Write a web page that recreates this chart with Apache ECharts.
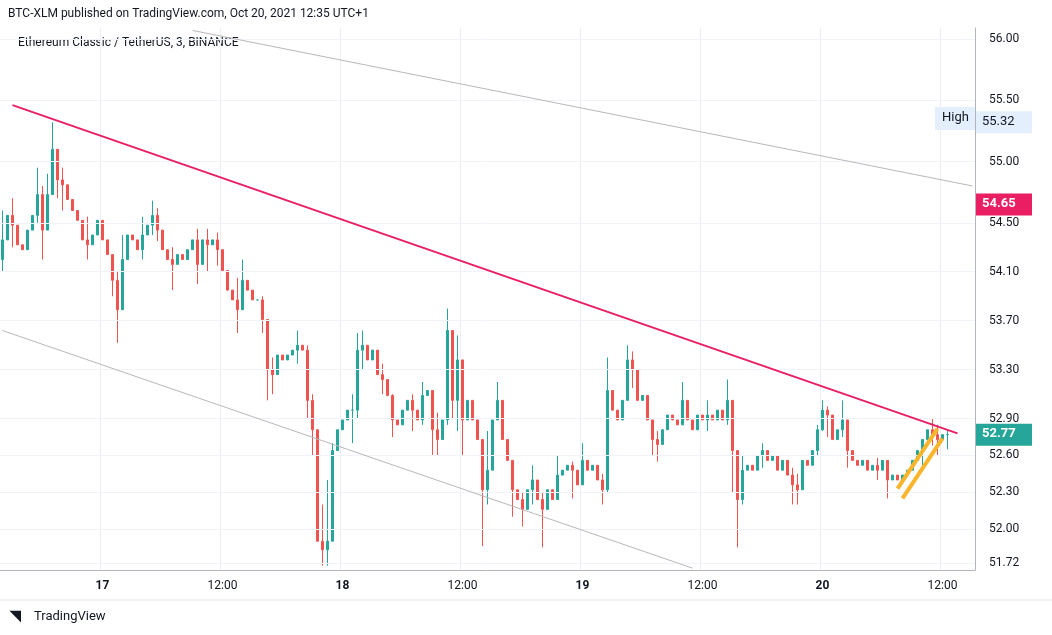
<!DOCTYPE html>
<html>
<head>
<meta charset="utf-8">
<script src="https://cdn.jsdelivr.net/npm/echarts@6/dist/echarts.min.js"></script>
<style>
  html, body { margin: 0; padding: 0; background: #fff; }
  #chart { width: 1052px; height: 635px; }
</style>
</head>
<body>
<div id="chart"></div>
<script>
// 30 minute candles, Oct 16 14:00 onward, closes
const closes = [
  54.36, 54.56, 54.48, 54.32, 54.28, 54.44, 54.56, 54.73, 54.44, 54.73,
  55.10, 54.85, 54.81, 54.69, 54.60, 54.52, 54.36, 54.32, 54.40, 54.52,
  54.36, 54.24, 54.03, 53.79, 54.20, 54.40, 54.36, 54.28, 54.40, 54.48,
  54.56, 54.44, 54.28, 54.20, 54.16, 54.24, 54.20, 54.28, 54.36, 54.16,
  54.36, 54.32, 54.36, 54.28, 54.11, 53.95, 53.87, 53.79, 54.03, 53.95,
  53.87, 53.87, 53.71, 53.30, 53.26, 53.42, 53.38, 53.42, 53.46, 53.50,
  53.46, 53.05, 52.81, 51.90, 51.83, 51.90, 52.64, 52.81, 52.89, 52.97,
  52.97, 53.46, 53.50, 53.38, 53.46, 53.26, 53.22, 53.09, 52.89, 52.85,
  52.97, 53.05, 52.97, 52.89, 53.09, 53.13, 52.81, 52.73, 52.89, 53.62,
  53.05, 53.38, 52.89, 53.05, 52.89, 52.73, 52.32, 52.48, 52.89, 53.05,
  52.73, 52.56, 52.32, 52.24, 52.16, 52.32, 52.40, 52.24, 52.16, 52.32,
  52.24, 52.44, 52.48, 52.52, 52.48, 52.36, 52.56, 52.48, 52.52, 52.40,
  52.32, 53.13, 52.97, 52.89, 53.05, 53.38, 53.30, 53.05, 53.09, 52.89,
  52.73, 52.69, 52.81, 52.93, 52.89, 52.85, 53.05, 52.89, 52.81, 52.93,
  52.89, 52.93, 52.89, 52.97, 52.89, 53.05, 52.64, 52.24, 52.48, 52.52,
  52.48, 52.60, 52.64, 52.56, 52.60, 52.48, 52.56, 52.44, 52.36, 52.32,
  52.56, 52.52, 52.64, 52.81, 52.97, 52.93, 52.73, 52.81, 52.89, 52.64,
  52.56, 52.52, 52.56, 52.48, 52.52, 52.48, 52.56, 52.40, 52.44, 52.40,
  52.44, 52.48, 52.56, 52.64, 52.73, 52.81, 52.77, 52.73, 52.77, 52.77
];
const firstOpen = 54.20;
// wick extremes that stick out past the bodies: [index, low, high]
const wicks = [
  [0, 54.10, 54.60], [2, 54.30, 54.70], [7, 54.50, 54.95], [8, 54.20, 54.80],
  [9, 54.60, 54.90], [10, 54.80, 55.32], [11, 54.70, 55.05], [12, 54.60, 54.95],
  [17, 54.20, 54.55], [22, 53.90, 54.20], [23, 53.52, 54.10], [24, 53.90, 54.40],
  [28, 54.20, 54.55], [30, 54.40, 54.68], [31, 54.35, 54.62], [34, 53.95, 54.30],
  [39, 54.00, 54.45], [41, 54.10, 54.45], [43, 54.15, 54.42], [47, 53.60, 54.05],
  [48, 53.80, 54.20], [52, 53.60, 53.90], [53, 53.05, 53.50], [54, 53.10, 53.40],
  [59, 53.35, 53.62], [61, 52.90, 53.50], [62, 52.60, 53.10], [63, 51.95, 52.80],
  [64, 51.70, 52.20], [65, 51.70, 52.40], [66, 51.90, 52.70], [70, 52.70, 53.10],
  [71, 52.90, 53.60], [72, 53.30, 53.62], [76, 53.10, 53.35], [78, 52.75, 53.10],
  [82, 52.80, 53.10], [84, 52.85, 53.20], [86, 52.60, 53.00], [87, 52.60, 52.95],
  [89, 52.85, 53.80], [90, 52.90, 53.60], [91, 52.80, 53.58], [92, 52.60, 53.20],
  [96, 51.86, 52.70], [97, 52.20, 52.80], [99, 52.90, 53.20], [102, 52.10, 52.50],
  [104, 52.02, 52.30], [106, 52.20, 52.52], [108, 51.85, 52.30], [111, 52.30, 52.60],
  [114, 52.25, 52.55], [116, 52.40, 52.70], [120, 52.20, 52.45], [121, 52.30, 53.40],
  [125, 53.20, 53.50], [126, 53.15, 53.45], [130, 52.60, 52.85], [131, 52.55, 52.80],
  [136, 52.85, 53.20], [141, 52.80, 53.05], [145, 52.85, 53.22], [146, 52.30, 52.90],
  [147, 51.85, 52.50], [148, 52.20, 52.60], [152, 52.50, 52.70], [158, 52.20, 52.50],
  [159, 52.20, 52.45], [163, 52.60, 52.85], [164, 52.80, 53.05], [165, 52.75, 53.00],
  [168, 52.75, 53.05], [169, 52.50, 52.85], [175, 52.40, 52.58], [177, 52.25, 52.50],
  [184, 52.52, 52.70], [186, 52.68, 52.90], [187, 52.60, 52.85], [189, 52.65, 52.80]
];
const yTicks = [51.72, 52.00, 52.30, 52.60, 52.90, 53.30, 53.70, 54.10, 54.50, 55.00, 55.50, 56.00];
const slotCount = 195;
const startTime = Date.UTC(2021, 9, 16, 14, 0);

// trend lines as [slot, price] pairs
const pinkLine = [[2, 55.46], [191, 52.78]];
const upperGray = [[38, 56.07], [194, 54.80]];
const lowerGray = [[0, 53.62], [138, 51.68]];
const yellowA = [[179, 52.33], [187, 52.82]];
const yellowB = [[180, 52.25], [188, 52.74]];

// price tags on the right scale: [price, text, background, text colour]
const priceTags = [
    [55.32, "55.32", "#e3effd", "#131722"],
    [54.65, "54.65", "#e91e63", "#ffffff"],
    [52.77, "52.77", "#26a69a", "#ffffff"]
];

const categories = [];
for (let i = 0; i < slotCount; i++) {
    const d = new Date(startTime + i * 30 * 60000);
    categories.push({ day: d.getUTCDate(), hour: d.getUTCHours(), min: d.getUTCMinutes() });
}
const catNames = categories.map((c, i) => String(i));

const wickMap = {};
wicks.forEach(w => { wickMap[w[0]] = [w[1], w[2]]; });
const candles = closes.map((c, i) => {
    const o = i === 0 ? firstOpen : closes[i - 1];
    let lo = Math.min(o, c), hi = Math.max(o, c);
    if (wickMap[i]) { lo = Math.min(lo, wickMap[i][0]); hi = Math.max(hi, wickMap[i][1]); }
    return [o, c, lo, hi];
});

function isMajor(i) {
    const c = categories[i];
    return c && c.min === 0 && c.hour % 12 === 0;
}

function seg(points, color, width) {
    return [
        { coord: [String(points[0][0]), points[0][1]], lineStyle: { color: color, width: width, type: "solid" } },
        { coord: [String(points[1][0]), points[1][1]] }
    ];
}

const chart = echarts.init(document.getElementById("chart"));
const option = {
    animation: false,
    backgroundColor: "#ffffff",
    grid: { left: 0, right: 77, top: 28, bottom: 65 },
    graphic: [
        { type: "text", left: 8, top: 8, style: { text: "BTC-XLM published on TradingView.com, Oct 20, 2021 12:35 UTC+1", fill: "#131722", font: "12px Roboto" } },
        { type: "text", left: 18, top: 37, style: { text: "Ethereum Classic / TetherUS, 3, BINANCE", fill: "#131722", font: "12px Roboto" } },
        { type: "text", left: 34, top: 610, style: { text: "TradingView", fill: "#131722", font: "13px Roboto" } },
        { type: "text", left: 10, top: 609, style: { text: "\u25E5", fill: "#131722", font: "bold 14px Roboto" } },
        { type: "rect", left: 935, top: 107, shape: { width: 40, height: 23 }, style: { fill: "#e3effd" } },
        { type: "text", left: 942, top: 111, style: { text: "High", fill: "#131722", font: "13px Roboto" } },
        { type: "line", shape: { x1: 0, y1: 600, x2: 1052, y2: 600 }, style: { stroke: "#e0e3eb" } }
    ],
    xAxis: {
        type: "category",
        data: catNames,
        boundaryGap: true,
        axisLine: { lineStyle: { color: "#b2b5be" } },
        axisTick: { show: false },
        axisLabel: {
            interval: (i) => isMajor(i),
            color: "#131722",
            fontSize: 12,
            fontFamily: "Roboto",
            margin: 10,
            formatter: (v) => {
                const c = categories[+v];
                return c.hour === 0 ? "{b|" + c.day + "}" : "12:00";
            },
            rich: { b: { fontWeight: "bold", fontSize: 12, color: "#131722" } }
        },
        splitLine: { show: true, interval: (i) => isMajor(i), lineStyle: { color: "#eceef2" } }
    },
    yAxis: {
        type: "value",
        position: "right",
        min: 51.665,
        max: 56.09,
        axisLine: { show: true, lineStyle: { color: "#b2b5be" } },
        axisTick: { show: false },
        splitLine: { show: false },
        axisLabel: {
            customValues: yTicks,
            color: "#131722",
            fontSize: 12,
            fontFamily: "Roboto",
            margin: 14,
            formatter: (v) => v.toFixed(2)
        }
    },
    series: [{
        type: "candlestick",
        data: candles,
        barWidth: 2,
        itemStyle: { color: "#26a69a", color0: "#ef5350", borderColor: "#26a69a", borderColor0: "#ef5350", borderWidth: 1 },
        markLine: {
            silent: true,
            symbol: "none",
            animation: false,
            label: { show: false },
            data: yTicks.map(v => ({ yAxis: v, lineStyle: { color: "#f0f3fa", width: 1, type: "solid" } }))
                .concat([
                    seg(upperGray, "#b8b8b8", 1),
                    seg(lowerGray, "#b8b8b8", 1),
                    seg(pinkLine, "#e91e63", 2),
                    seg(yellowA, "#f9b52c", 4),
                    seg(yellowB, "#f9b52c", 4)
                ])
        }
    }]
};
chart.setOption(option);

// price tags placed on the scale through the axis conversion
const tagGraphics = [];
priceTags.forEach(t => {
    const y = chart.convertToPixel({ yAxisIndex: 0 }, t[0]);
    tagGraphics.push({ type: "rect", x: 976, y: y - 11, shape: { width: 56, height: 22 }, style: { fill: t[2] }, z: 100 });
    tagGraphics.push({ type: "text", x: 982, y: y - 7, style: { text: t[1], fill: t[3], font: (t[3] === "#ffffff" ? "bold " : "") + "13px Roboto" }, z: 101 });
});
chart.setOption({ graphic: option.graphic.concat(tagGraphics) });
</script>
</body>
</html>
